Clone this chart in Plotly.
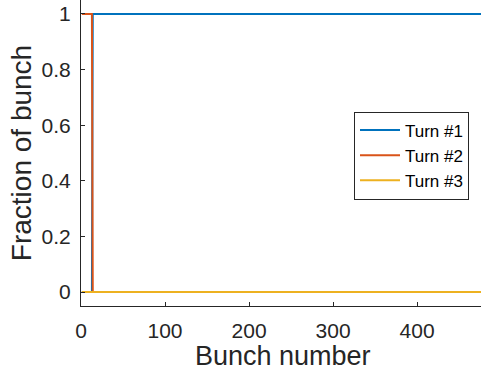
import plotly.graph_objects as go

# Bunch index along the train
bunch = list(range(1, 481))

# Fraction of each bunch extracted on each turn
turn1 = [0.0] * 13 + [1.0] * 467
turn2 = [1.0] * 13 + [0.0] * 467
turn3 = [0.0] * 480

series_names = ["Turn #1", "Turn #2", "Turn #3"]
series_colors = ["#0072BD", "#D95319", "#EDB120"]

x_ticks = [0, 100, 200, 300, 400]
y_ticks = [0, 0.2, 0.4, 0.6, 0.8, 1]
y_tick_text = ["0", "0.2", "0.4", "0.6", "0.8", "1"]

fig = go.Figure()
for name, ys, col in zip(series_names, [turn1, turn2, turn3], series_colors):
    fig.add_trace(go.Scatter(
        x=bunch, y=ys, mode="lines", name=name,
        line=dict(color=col, width=2),
    ))

axis_col = "#262626"
font_family = "Liberation Sans, Arial, sans-serif"

# x-axis title placed as a paper annotation so it can sit low in the margin
fig.add_annotation(
    text="Bunch number", xref="paper", yref="paper",
    x=0.505, y=-0.1634, xanchor="center", yanchor="middle",
    showarrow=False, font=dict(size=27, color=axis_col, family=font_family),
)

fig.update_layout(
    width=481, height=374,
    margin=dict(l=81, r=0, t=0, b=68),
    paper_bgcolor="white", plot_bgcolor="white",
    font=dict(family=font_family, color=axis_col, size=21),
    showlegend=True,
    legend=dict(
        x=0.6825, y=0.6356, xanchor="left", yanchor="top",
        bgcolor="white", bordercolor=axis_col, borderwidth=1,
        font=dict(size=17, color="black", family=font_family),
        tracegroupgap=0, itemwidth=40,
    ),
    xaxis=dict(
        range=[0, 476], tickvals=x_ticks,
        ticks="inside", ticklen=4, tickcolor=axis_col,
        showline=True, linecolor=axis_col, linewidth=1,
        showgrid=False, zeroline=False,
        tickfont=dict(size=21, color=axis_col),
        ticklabelstandoff=6,
    ),
    yaxis=dict(
        range=[-0.05, 1.05], tickvals=y_ticks, ticktext=y_tick_text,
        ticks="inside", ticklen=4, tickcolor=axis_col,
        showline=True, linecolor=axis_col, linewidth=1,
        showgrid=False, zeroline=False,
        tickfont=dict(size=21, color=axis_col),
        ticklabelstandoff=5,
        title=dict(text="Fraction of bunch", font=dict(size=28, color=axis_col), standoff=1),
    ),
)

fig.write_html("out.html")
